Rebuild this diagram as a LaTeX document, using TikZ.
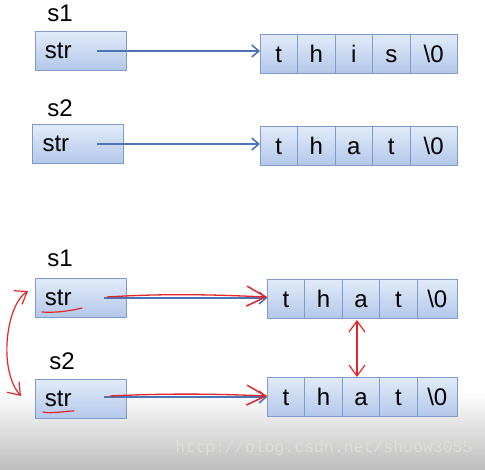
\documentclass[tikz,border=0pt]{standalone}
\usepackage{fontspec}
\setmainfont{Liberation Sans}
\newfontfamily\wmfont{Liberation Mono}
\usetikzlibrary{arrows.meta,positioning}
\definecolor{boxtop}{HTML}{E2EBF9}
\definecolor{boxbot}{HTML}{B3C8EA}
\definecolor{boxline}{HTML}{7E9BC9}
\definecolor{arrblue}{HTML}{4C74B4}
\definecolor{penred}{HTML}{E3262A}
\definecolor{wmcol}{HTML}{DEDED6}
\definecolor{bggray}{HTML}{BDBDBD}
\tikzset{
  cell/.style={draw=boxline, line width=0.9pt, top color=boxtop, bottom color=boxbot,
    minimum height=39pt, minimum width=37.5pt, inner sep=0pt, outer sep=0pt,
    font=\fontsize{24}{24}\selectfont, text height=17pt, text depth=0pt},
  lastcell/.style={cell, minimum width=47.3pt},
  varbox/.style={draw=boxline, line width=0.9pt, top color=boxtop, bottom color=boxbot,
    minimum height=39pt, minimum width=91pt, inner xsep=10pt, inner ysep=0pt, outer sep=0pt,
    font=\fontsize{24}{24}\selectfont, text height=17pt, text depth=2pt},
  varlabel/.style={font=\fontsize{24}{24}\selectfont, inner sep=0pt},
  ptr/.style={draw=arrblue, line width=1.8pt, -{Straight Barb[length=7pt,width=12pt,line width=1.6pt]}},
  redptr/.style={draw=penred, line width=1.3pt, -{Straight Barb[length=19pt,width=20pt,line width=1.5pt]}},
  redswap/.style={draw=penred, line width=1.2pt, {Straight Barb[length=11pt,width=16pt]}-{Straight Barb[length=11pt,width=16pt]}},
  redline/.style={draw=penred, line width=1.2pt, line cap=round},
}
\newcommand{\strtext}{\makebox[71pt][l]{str}}
\begin{document}
\begin{tikzpicture}[x=1pt,y=-1pt]
\useasboundingbox (0,0) rectangle (485,469);
% background fading to gray at bottom
\fill[white] (0,0) rectangle (485,469);
\shade[top color=white, bottom color=bggray, shading angle=0] (0,392) rectangle (485,469);
\node[font=\wmfont\fontsize{16.5}{16.5}\selectfont, text=wmcol, inner sep=0pt] (wm) at (324,448) {http://blog.csdn.net/shuow3055};

% ---------- top: s1 ----------
\node[varlabel] (l1) at (60,13) {s1};
\node[varbox] (b1) at (80.5,50.5) {\strtext};
\node[cell, anchor=west] (c11) at (260,53.5) {t};
\node[cell, right=0pt of c11] (c12) {h};
\node[cell, right=0pt of c12] (c13) {i};
\node[cell, right=0pt of c13] (c14) {s};
\node[lastcell, right=0pt of c14] (c15) {\textbackslash0};
\coordinate (p1) at (97,51);
\draw[ptr] (p1) -- (c11.west |- p1);

% ---------- top: s2 ----------
\node[varlabel] (l2) at (60,108) {s2};
\node[varbox] (b2) at (78,143.5) {\strtext};
\node[cell, anchor=west] (c21) at (260,145.5) {t};
\node[cell, right=0pt of c21] (c22) {h};
\node[cell, right=0pt of c22] (c23) {a};
\node[cell, right=0pt of c23] (c24) {t};
\node[lastcell, right=0pt of c24] (c25) {\textbackslash0};
\coordinate (p2) at (97,144);
\draw[ptr] (p2) -- (c21.west |- p2);

% ---------- bottom: s1 ----------
\node[varlabel] (l3) at (60,258) {s1};
\node[varbox] (b3) at (80.5,297.5) {\strtext};
\node[cell, anchor=west] (c31) at (267.3,298.5) {t};
\node[cell, right=0pt of c31] (c32) {h};
\node[cell, right=0pt of c32] (c33) {a};
\node[cell, right=0pt of c33] (c34) {t};
\node[cell, minimum width=40pt, right=0pt of c34] (c35) {\textbackslash0};
\coordinate (p3) at (104,298);
\draw[ptr] (p3) -- (c31.west |- p3);

% ---------- bottom: s2 ----------
\node[varlabel] (l4) at (62,361) {s2};
\node[varbox] (b4) at (80.5,398.5) {\strtext};
\node[cell, anchor=west] (c41) at (267.3,396.5) {t};
\node[cell, right=0pt of c41] (c42) {h};
\node[cell, right=0pt of c42] (c43) {a};
\node[cell, right=0pt of c43] (c44) {t};
\node[cell, minimum width=40pt, right=0pt of c44] (c45) {\textbackslash0};
\coordinate (p4) at (104,397);
\draw[ptr] (p4) -- (c41.west |- p4);

% ---------- red annotations ----------
\coordinate (r3) at (107,297);
\draw[redptr] (r3) .. controls (170,293) and (220,295) .. (c31.west |- r3);
\coordinate (r4) at (110,396);
\draw[redptr] (r4) .. controls (170,393) and (220,394) .. (c41.west |- r4);
% underlines
\coordinate (u3a) at (42,312); \coordinate (u3b) at (82,308);
\draw[redline] (u3a) .. controls (55,313) and (70,311) .. (u3b);
\coordinate (u4a) at (43,412); \coordinate (u4b) at (74,411);
\draw[redline] (u4a) .. controls (52,414) and (64,411) .. (u4b);
% swap of pointers
\coordinate (sw1) at (28,291); \coordinate (sw2) at (21,396);
\draw[redswap] (sw1) .. controls (6,305) and (-2,370) .. (sw2);
% shared content
\coordinate (v1) at (357,320);
\draw[redswap] (v1) -- (v1 |- c43.north);
\end{tikzpicture}
\end{document}
